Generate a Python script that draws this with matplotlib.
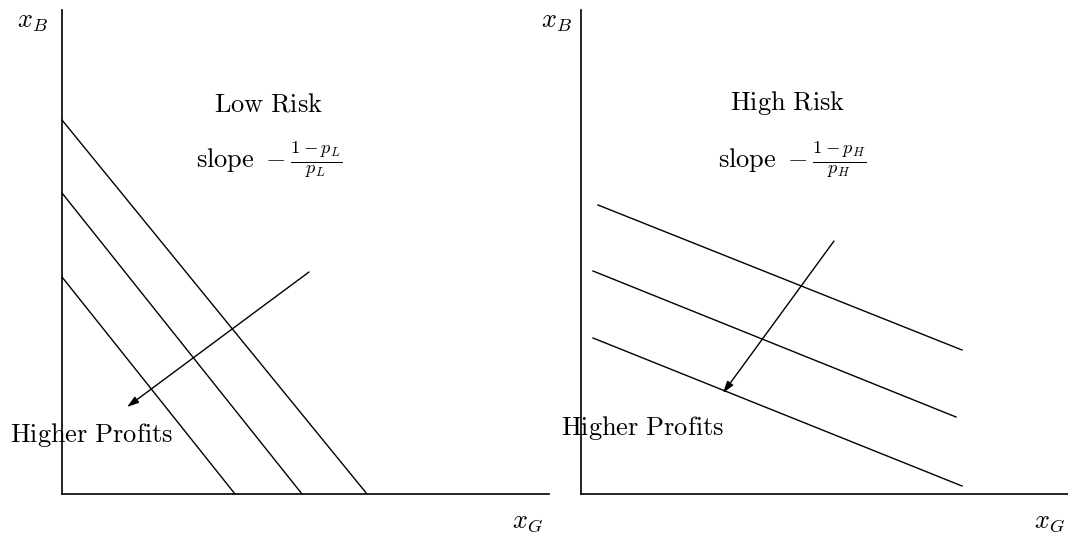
import matplotlib.pyplot as plt

plt.rcParams['mathtext.fontset'] = 'cm'
plt.rcParams['font.family'] = 'serif'
plt.rcParams['font.serif'] = ['DejaVu Serif']

W, H = 1068, 533
# axis origins in figure pixels (from top-left)
origins = [(62, 494), (581, 494)]
ax_w, ax_h = 487, 484

# iso-profit lines, panel coordinates (x_G, x_B) of both ends
low_starts = [(0, 374), (0, 301), (0, 217)]
low_ends = [(305, 0), (240, 0), (173, 0)]
high_starts = [(17, 289), (12, 223), (12, 156)]
high_ends = [(381, 144), (375, 77), (381, 8)]

low_arrow = [(247, 222), (65, 87)]
high_arrow = [(253, 253), (142, 101)]

titles = [r"$\mathrm{Low\ Risk}$", r"$\mathrm{High\ Risk}$"]
slopes = [r"$\mathrm{slope}\ -\frac{1-p_L}{p_L}$", r"$\mathrm{slope}\ -\frac{1-p_H}{p_H}$"]
title_pos = [(207, 390), (207, 391)]
slope_pos = [(207, 334), (211, 334)]
xb_pos = [(-30, 472), (-25, 472)]
xg_pos = [(466, -28), (469, -28)]
profit_pos = [(-52, 59), (-20, 66)]

fig = plt.figure(figsize=(W / 100, H / 100), dpi=100)

panels = [(low_starts, low_ends, low_arrow), (high_starts, high_ends, high_arrow)]
for i, (starts, ends, arrow) in enumerate(panels):
    ox, oy = origins[i]
    ax = fig.add_axes([ox / W, (H - oy) / H, ax_w / W, ax_h / H])
    ax.set_xlim(0, ax_w)
    ax.set_ylim(0, ax_h)
    for s in ['top', 'right']:
        ax.spines[s].set_visible(False)
    for s in ['left', 'bottom']:
        ax.spines[s].set_linewidth(1.2)
    ax.set_xticks([])
    ax.set_yticks([])
    ax.patch.set_alpha(0)

    for (x0, y0), (x1, y1) in zip(starts, ends):
        ax.plot([x0, x1], [y0, y1], color='black', lw=1.0, clip_on=False)

    ax.annotate('', xy=arrow[1], xytext=arrow[0],
                arrowprops=dict(arrowstyle='-|>,head_length=0.7,head_width=0.22',
                                color='black', lw=1.0, shrinkA=0, shrinkB=0))

    ax.text(*title_pos[i], titles[i], ha='center', va='center', fontsize=19)
    ax.text(*slope_pos[i], slopes[i], ha='center', va='center', fontsize=19)
    ax.text(*xb_pos[i], r"$x_B$", ha='center', va='center', fontsize=19, clip_on=False)
    ax.text(*xg_pos[i], r"$x_G$", ha='center', va='center', fontsize=19, clip_on=False)
    ax.text(*profit_pos[i], r"$\mathrm{Higher\ Profits}$", ha='left', va='center',
            fontsize=19, clip_on=False)

fig.savefig('out.png', dpi=100)
